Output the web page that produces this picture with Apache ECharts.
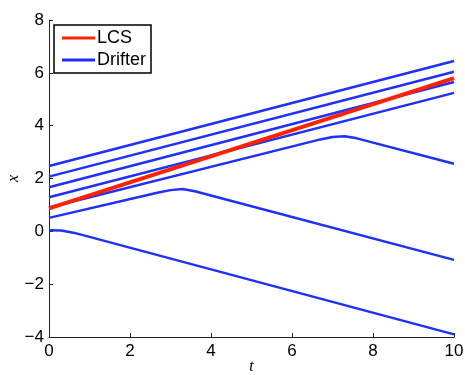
<!DOCTYPE html>
<html>
<head>
<meta charset="utf-8">
<script src="https://cdn.jsdelivr.net/npm/echarts@6/dist/echarts.min.js"></script>
<style>
  html, body { margin: 0; padding: 0; background: #fff; }
  #chart { width: 465px; height: 375px; }
</style>
</head>
<body>
<div id="chart"></div>
<script>
// LCS position over time
const lcsT = [0, 10];
const lcsX = [0.87, 5.8];

// drifter trajectories (t, x)
const drifterT = [
  [0, 10],
  [0, 10],
  [0, 10],
  [0, 10],
  [0, 6.7, 7.0, 7.3, 7.6, 10],
  [0, 2.7, 3.0, 3.3, 3.6, 10],
  [0, 0.3, 0.6, 1.0, 10]
];
const drifterX = [
  [2.47, 6.45],
  [2.07, 6.04],
  [1.67, 5.65],
  [1.29, 5.24],
  [0.9, 3.48, 3.57, 3.6, 3.52, 2.56],
  [0.51, 1.47, 1.56, 1.6, 1.52, -1.08],
  [0.04, 0.03, -0.05, -0.21, -3.9]
];

const xTicks = { min: 0, max: 10, interval: 2 };
const yTicks = { min: -4, max: 8, interval: 2 };

const RED = '#ff2200';
const BLUE = '#1f2fff';
const pairs = (ts, xs) => ts.map((t, i) => [t, xs[i]]);
const minus = (v) => String(v).replace('-', '\u2212');

const chart = echarts.init(document.getElementById('chart'), null, { renderer: 'canvas' });

const series = [];
drifterT.forEach((ts, i) => {
  series.push({
    name: 'Drifter',
    type: 'line',
    symbol: 'none',
    silent: true,
    lineStyle: { color: BLUE, width: 2.5 },
    itemStyle: { color: BLUE },
    data: pairs(ts, drifterX[i]),
    z: 2
  });
});
series.push({
  name: 'LCS',
  type: 'line',
  symbol: 'none',
  silent: true,
  lineStyle: { color: RED, width: 4 },
  itemStyle: { color: RED },
  data: pairs(lcsT, lcsX),
  z: 3
});

const axisCommon = {
  axisLine: { onZero: false, lineStyle: { color: '#222', width: 1 } },
  axisTick: { inside: true, length: 4, lineStyle: { color: '#222' } },
  splitLine: { show: false },
  nameMoveOverlap: false,
  nameTextStyle: { fontFamily: 'Liberation Serif', fontStyle: 'italic', fontSize: 16, color: '#000' }
};

chart.setOption({
  animation: false,
  backgroundColor: '#fff',
  grid: { left: 49, right: 11, top: 20, bottom: 38, containLabel: false, outerBoundsMode: 'none' },
  legend: {
    data: ['LCS', 'Drifter'],
    orient: 'vertical',
    left: 54,
    top: 25,
    icon: 'rect',
    itemWidth: 33,
    itemHeight: 3,
    itemGap: 2,
    padding: [3, 5, 3, 8],
    borderColor: '#000',
    borderWidth: 1.5,
    backgroundColor: '#fff',
    textStyle: { fontFamily: 'Liberation Sans', fontSize: 18, color: '#000', lineHeight: 20, padding: [0, 0, 0, -3] }
  },
  xAxis: Object.assign({}, axisCommon, {
    type: 'value',
    min: xTicks.min,
    max: xTicks.max,
    interval: xTicks.interval,
    name: 't',
    nameLocation: 'middle',
    nameGap: 22,
    axisLabel: { fontFamily: 'Liberation Sans', fontSize: 17, color: '#000', margin: 6, formatter: minus }
  }),
  yAxis: Object.assign({}, axisCommon, {
    type: 'value',
    min: yTicks.min,
    max: yTicks.max,
    interval: yTicks.interval,
    name: 'x',
    nameLocation: 'middle',
    nameGap: 27,
    axisLabel: { fontFamily: 'Liberation Sans', fontSize: 17, color: '#000', margin: 5, formatter: minus }
  }),
  series: series
});
</script>
</body>
</html>
